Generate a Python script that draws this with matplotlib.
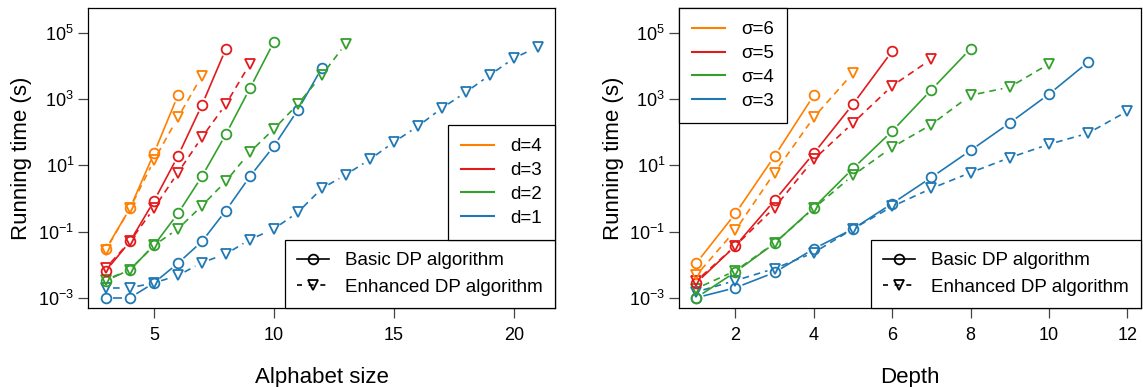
import numpy as np
import matplotlib
matplotlib.use("Agg")
import matplotlib.pyplot as plt
from matplotlib.lines import Line2D

plt.rcParams['font.family'] = ['Liberation Sans', 'DejaVu Sans']
plt.rcParams['mathtext.fontset'] = 'custom'
plt.rcParams['mathtext.rm'] = 'Liberation Sans'
plt.rcParams['mathtext.it'] = 'Liberation Sans:italic'

# colours (dark shades of the Paired palette)
colors = {"4": "#FF7F00", "3": "#E31A1C", "2": "#33A02C", "1": "#1F78B4"}
sig_colors = {"6": "#FF7F00", "5": "#E31A1C", "4": "#33A02C", "3": "#1F78B4"}

# ---- left panel: running time vs alphabet size, one pair per d ----
d4_basic_x = [3, 4, 5, 6]
d4_basic = [0.03, 0.5, 23, 1300]
d4_enh_x = [3, 4, 5, 6, 7]
d4_enh = [0.028, 0.5, 14, 280, 5000]

d3_basic_x = [3, 4, 5, 6, 7, 8]
d3_basic = [0.0066, 0.05, 0.83, 19, 660, 33000]
d3_enh_x = [3, 4, 5, 6, 7, 8, 9]
d3_enh = [0.008, 0.05, 0.5, 6, 70, 700, 11500]

d2_basic_x = [3, 4, 5, 6, 7, 8, 9, 10]
d2_basic = [0.0033, 0.007, 0.038, 0.35, 4.6, 87, 2100, 53000]
d2_enh_x = [3, 4, 5, 6, 7, 8, 9, 10, 11, 12, 13]
d2_enh = [0.0035, 0.007, 0.038, 0.12, 0.6, 3.3, 25, 125, 700, 5300, 47000]

d1_basic_x = [3, 4, 5, 6, 7, 8, 9, 10, 11, 12]
d1_basic = [0.001, 0.001, 0.0028, 0.011, 0.05, 0.43, 4.6, 38, 470, 8700]
d1_enh_x = list(range(3, 22))
d1_enh = [0.002, 0.002, 0.0028, 0.0047, 0.0115, 0.021, 0.057, 0.12, 0.38,
          2.0, 5.2, 15, 50, 150, 530, 1600, 5300, 17000, 38000]

# ---- right panel: running time vs depth, one pair per sigma ----
s6_basic_x = [1, 2, 3, 4]
s6_basic = [0.011, 0.35, 19, 1300]
s6_enh_x = [1, 2, 3, 4, 5]
s6_enh = [0.0047, 0.11, 6, 280, 6100]

s5_basic_x = [1, 2, 3, 4, 5, 6]
s5_basic = [0.0028, 0.037, 0.87, 23, 700, 28000]
s5_enh_x = [1, 2, 3, 4, 5, 6, 7]
s5_enh = [0.0032, 0.037, 0.53, 15, 190, 2500, 16000]

s4_basic_x = [1, 2, 3, 4, 5, 6, 7, 8]
s4_basic = [0.001, 0.006, 0.044, 0.53, 8, 108, 1900, 33000]
s4_enh_x = [1, 2, 3, 4, 5, 6, 7, 8, 9, 10]
s4_enh = [0.0019, 0.0065, 0.045, 0.5, 5, 35, 170, 1300, 2300, 11500]

s3_basic_x = [1, 2, 3, 4, 5, 6, 7, 8, 9, 10, 11]
s3_basic = [0.001, 0.002, 0.0058, 0.03, 0.12, 0.7, 4.3, 28, 190, 1400, 13000]
s3_enh_x = [1, 2, 3, 4, 5, 6, 7, 8, 9, 10, 11, 12]
s3_enh = [0.0015, 0.0033, 0.0076, 0.023, 0.12, 0.57, 2, 6, 17, 43, 93, 430]

yticks = [1e-3, 1e-1, 1e1, 1e3, 1e5]
yticklabels = ['$10^{-3}$', '$10^{-1}$', '$10^{1}$', '$10^{3}$', '$10^{5}$']
left_xticks = [5, 10, 15, 20]
right_xticks = [2, 4, 6, 8, 10, 12]

LW = 1.2
GAP = 7.5  # px gap around points, like R type="b"


def draw(ax, x, y, color, ls, marker):
    ax.plot(x, y, ls='none', marker=marker, ms=7, mfc='none', mec=color, mew=1.3)
    pts = ax.transData.transform(np.column_stack([x, y]))
    inv = ax.transData.inverted()
    for p, q in zip(pts[:-1], pts[1:]):
        d = q - p
        L = np.hypot(d[0], d[1])
        if L <= 2 * GAP:
            continue
        u = d / L
        seg = inv.transform(np.array([p + u * GAP, q - u * GAP]))
        kw = dict(color=color, lw=LW, solid_capstyle='butt')
        if ls == '--':
            kw['dashes'] = (4, 3)
        ax.plot(seg[:, 0], seg[:, 1], **kw)


def setup(ax, xlim, xticks, xlabel):
    ax.set_yscale('log')
    ax.set_xlim(*xlim)
    ax.set_ylim(10 ** -3.31, 10 ** 5.75)
    ax.set_yticks(yticks)
    ax.set_yticklabels(yticklabels)
    ax.minorticks_off()
    ax.set_xticks(xticks)
    ax.tick_params(direction='out', length=7, width=0.9, labelsize=13, color='#444444')
    ax.tick_params(axis='x', pad=7)
    ax.tick_params(axis='y', pad=3)
    for s in ax.spines.values():
        s.set_linewidth(0.9)
    ax.set_ylabel('Running time (s)', fontsize=16)
    ax.set_xlabel(xlabel, fontsize=16)
    ax.yaxis.set_label_coords(-0.12, 0.5)
    ax.xaxis.set_label_coords(0.5, -0.197)


method_handles = [
    Line2D([], [], color='black', lw=LW, marker='o', ms=7, mfc='none', mew=1.3),
    Line2D([], [], color='black', lw=LW, marker='v', ms=7, mfc='none', mew=1.3, dashes=(3, 4)),
]
method_labels = ['Basic DP algorithm', 'Enhanced DP algorithm']

fig = plt.figure(figsize=(11.43, 3.87), dpi=100)
ax1 = fig.add_axes([88 / 1143, 79 / 387, 467 / 1143, 300 / 387])
ax2 = fig.add_axes([679 / 1143, 79 / 387, 462 / 1143, 300 / 387])

setup(ax1, (2.25, 21.72), left_xticks, 'Alphabet size')
setup(ax2, (0.56, 12.35), right_xticks, 'Depth')

left_series = [
    ("1", d1_basic_x, d1_basic, d1_enh_x, d1_enh),
    ("2", d2_basic_x, d2_basic, d2_enh_x, d2_enh),
    ("3", d3_basic_x, d3_basic, d3_enh_x, d3_enh),
    ("4", d4_basic_x, d4_basic, d4_enh_x, d4_enh),
]
for k, bx, by, ex, ey in left_series:
    draw(ax1, bx, by, colors[k], '-', 'o')
    draw(ax1, ex, ey, colors[k], '--', 'v')

right_series = [
    ("3", s3_basic_x, s3_basic, s3_enh_x, s3_enh),
    ("4", s4_basic_x, s4_basic, s4_enh_x, s4_enh),
    ("5", s5_basic_x, s5_basic, s5_enh_x, s5_enh),
    ("6", s6_basic_x, s6_basic, s6_enh_x, s6_enh),
]
for k, bx, by, ex, ey in right_series:
    draw(ax2, bx, by, sig_colors[k], '-', 'o')
    draw(ax2, ex, ey, sig_colors[k], '--', 'v')

legend_kw = dict(fontsize=13.5, frameon=True, fancybox=False, edgecolor='black',
                 framealpha=1, borderaxespad=0, handletextpad=0.85)
method_kw = dict(labelspacing=0.5, borderpad=0.65, handlelength=1.7, **legend_kw)
color_kw = dict(labelspacing=0.36, borderpad=0.7, handlelength=1.75, **legend_kw)

# method legends first, then the colour legend of the left panel sits on top of it
leg2 = ax1.legend(method_handles, method_labels, loc='lower right',
                  bbox_to_anchor=(1.0, 0.0), **method_kw)
leg2.get_frame().set_linewidth(0.9)
ax1.add_artist(leg2)
leg4 = ax2.legend(method_handles, method_labels, loc='lower right',
                  bbox_to_anchor=(1.0, 0.0), **method_kw)
leg4.get_frame().set_linewidth(0.9)
ax2.add_artist(leg4)

fig.canvas.draw()
bb = leg2.get_window_extent().transformed(ax1.transAxes.inverted())

d_handles = [Line2D([], [], color=colors[k], lw=1.5) for k in ["4", "3", "2", "1"]]
leg1 = ax1.legend(d_handles, ['d=4', 'd=3', 'd=2', 'd=1'], loc='lower right',
                  bbox_to_anchor=(1.0, bb.y1), **color_kw)
leg1.get_frame().set_linewidth(0.9)

s_handles = [Line2D([], [], color=sig_colors[k], lw=1.5) for k in ["6", "5", "4", "3"]]
leg3 = ax2.legend(s_handles, ['σ=6', 'σ=5', 'σ=4', 'σ=3'], loc='upper left',
                  bbox_to_anchor=(0.0, 1.0), **color_kw)
leg3.get_frame().set_linewidth(0.9)

fig.savefig('out.png', dpi=100)
